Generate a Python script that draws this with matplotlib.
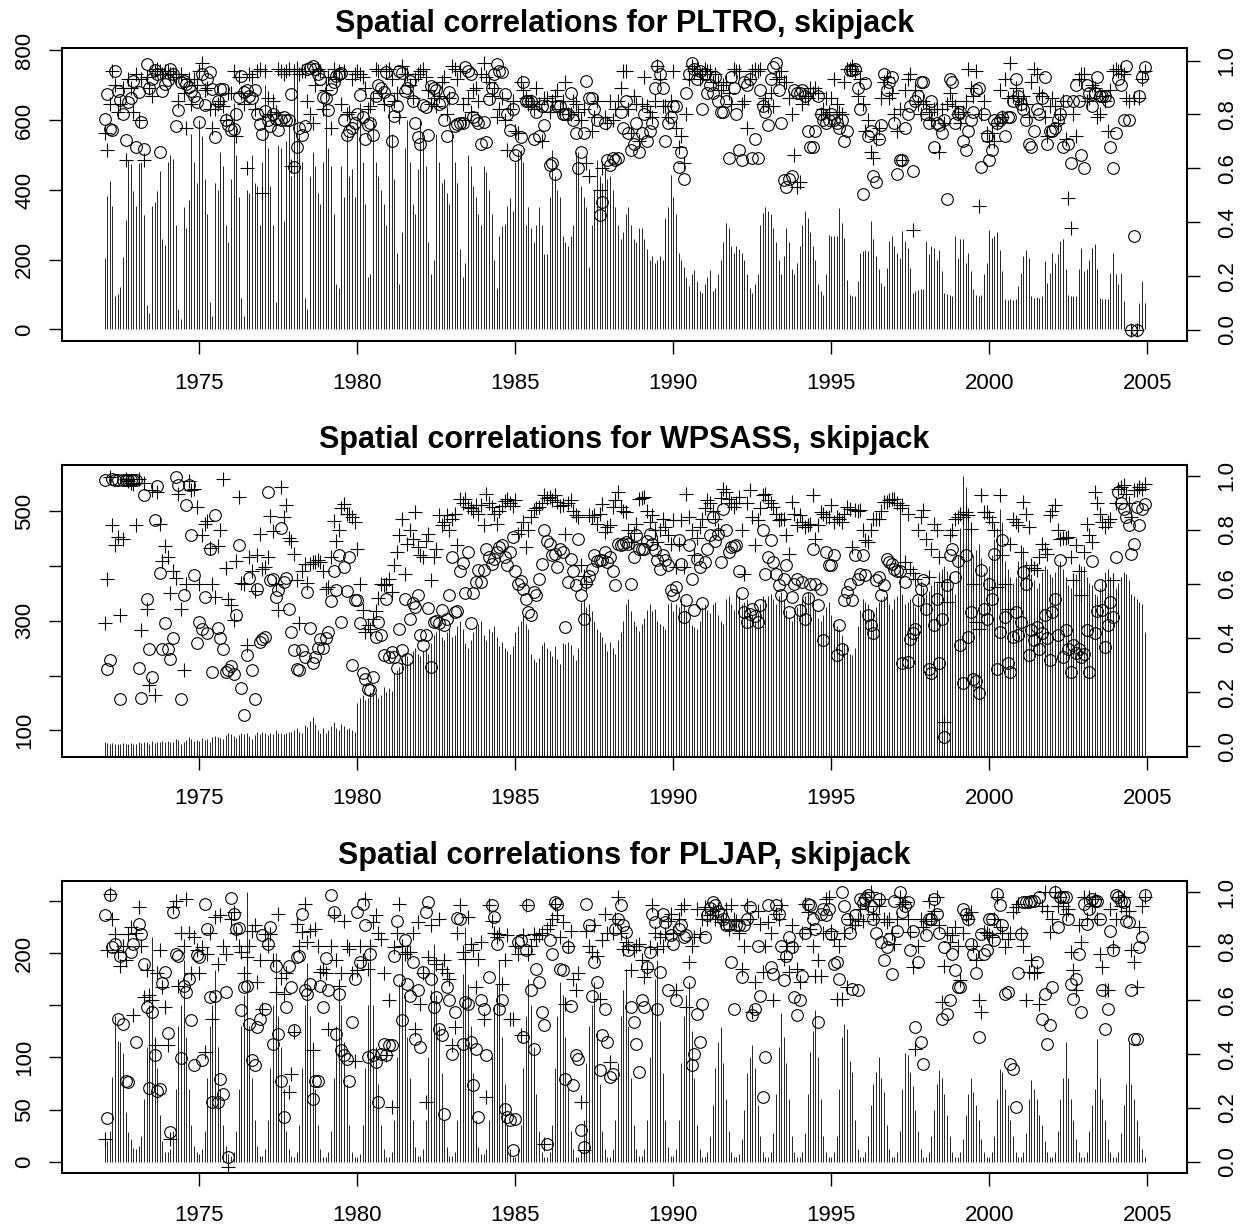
import numpy as np
import matplotlib
matplotlib.use("Agg")
import matplotlib.pyplot as plt

plt.rcParams['font.family'] = ['Liberation Sans', 'DejaVu Sans']

start_year = 1972
x_ticks = [1975, 1980, 1985, 1990, 1995, 2000, 2005]

# ---------------- PLTRO (rows = years 1972..2004, columns = months) -------------
pltro_catch = [
    [205,384,427,353,97,103,121,208,315,487,473,396],
    [353,477,480,329,70,46,353,366,396,455,258,241],
    [480,500,490,300,60,30,350,290,370,560,480,420],
    [600,555,430,330,80,40,420,400,510,470,300,250],
    [430,650,500,380,90,40,400,390,500,420,410,300],
    [480,700,520,410,300,80,530,520,310,540,590,440],
    [740,770,560,480,90,60,440,510,470,390,360,480],
    [720,520,470,330,130,120,470,380,560,440,460,380],
    [600,650,480,360,150,160,610,480,440,400,360,300],
    [640,560,430,220,130,280,520,600,480,360,330,460],
    [600,540,470,250,160,200,560,480,420,430,390,360],
    [570,480,420,230,150,190,500,470,410,380,330,300],
    [470,450,400,330,200,120,267,296,301,353,377,339],
    [480,510,515,480,300,350,290,250,300,350,300,215],
    [215,380,515,440,400,380,267,250,240,267,300,510],
    [510,410,380,350,180,300,400,487,440,420,460,430],
    [440,400,350,300,260,280,330,350,300,260,250,290],
    [290,260,230,200,210,190,200,210,200,320,350,444],
    [380,330,220,200,180,150,125,160,170,140,110,105],
    [130,150,170,110,120,160,200,250,306,290,240,220],
    [240,230,220,200,160,120,105,130,160,300,335,350],
    [340,330,290,250,200,160,210,290,250,172,160,190],
    [240,300,339,320,280,240,200,130,110,100,160,270],
    [267,267,267,349,306,263,143,100,97,95,138,220],
    [224,229,224,310,258,210,172,134,124,177,253,267],
    [239,220,205,282,253,234,177,105,110,113,115,115],
    [253,215,239,234,200,229,167,105,102,100,95,267],
    [205,258,260,191,220,167,115,100,95,100,158,191],
    [286,263,267,279,229,167,86,84,86,84,86,124],
    [162,210,229,205,95,91,94,91,95,196,134,162],
    [220,191,215,253,258,172,100,97,97,95,172,234],
    [167,172,200,234,244,172,89,88,86,88,162,220],
    [158,129,162,81,0,0,0,0,0,76,138,76],
]
pltro_circles = [
    [.785,.877,.747,.743,.963,.886,.852,.80,.704,.846,.862,.923],
    [.681,.883,.773,.673,.988,.899,.932,.965,.951,.660,.886,.914],
    [.928,.969,.951,.756,.815,.922,.926,.914,.901,.886,.87,.848],
    [.772,.951,.836,.93,.957,.895,.716,.85,.895,.893,.778,.76],
    [.741,.747,.80,.864,.944,.883,.889,.87,.862,.889,.80,.765],
    [.728,.812,.778,.759,.80,.784,.741,.780,.79,.778,.778,.877],
    [.605,.681,.75,.722,.756,.969,.972,.981,.969,.95,.932,.864],
    [.862,.815,.895,.92,.944,.95,.953,.781,.725,.74,.75,.768],
    [.80,.874,.79,.710,.762,.768,.722,.870,.911,.90,.883,.959],
    [.852,.70,.796,.833,.960,.954,.886,.90,.923,.85,.768,.716],
    [.691,.837,.827,.725,.907,.90,.889,.840,.846,.78,.719,.883],
    [.862,.756,.765,.77,.768,.975,.963,.951,.79,.78,.77,.69],
    [.772,.698,.858,.90,.95,.988,.963,.957,.877,.80,.741,.82],
    [.648,.67,.716,.92,.85,.85,.85,.71,.81,.72,.83,.76],
    [.83,.611,.62,.58,.83,.83,.80,.80,.80,.88,.78,.73],
    [.60,.66,.73,.926,.86,.86,.82,.78,.426,.475,.77,.63],
    [.611,.64,.63,.64,.81,.75,.85,.73,.67,.69,.77,.66],
    [.73,.80,.70,.74,.77,.90,.98,.95,.90,.70,.77,.79],
    [.83,.83,.605,.66,.56,.88,.95,.99,.97,.93,.96,.82],
    [.95,.88,.91,.88,.94,.85,.81,.81,.85,.64,.94,.90],
    [.80,.67,.63,.92,.91,.93,.64,.71,.64,.89,.83,.81],
    [.76,.93,.975,.99,.89,.77,.556,.53,.562,.57,.89,.88],
    [.88,.89,.87,.74,.68,.68,.74,.87,.80,.78,.77,.78],
    [.80,.78,.77,.75,.78,.70,.74,.965,.965,.97,.90,.82],
    [.506,.916,.72,.74,.57,.55,.71,.76,.95,.89,.92,.94],
    [.77,.58,.63,.63,.75,.80,.83,.59,.85,.87,.92,.92],
    [.80,.77,.85,.68,.77,.76,.73,.78,.488,.93,.92,.77],
    [.80,.81,.70,.67,.74,.78,.81,.89,.90,.605,.80,.72],
    [.632,.67,.78,.77,.78,.79,.72,.79,.79,.85,.93,.87],
    [.84,.82,.78,.69,.68,.74,.82,.80,.86,.94,.69,.74],
    [.74,.75,.78,.80,.68,.85,.69,.62,.85,.91,.85,.65],
    [.60,.91,.88,.83,.88,.94,.87,.87,.87,.85,.68,.60],
    [.73,.93,.91,.78,.98,.78,0,.35,0,.87,.94,.975],
]
pltro_plus = [
    [.73,.67,.84,.96,.91,.81,.84,.90,.63,.93,.90,.81],
    [.95,.78,.93,.63,.94,.90,.87,.96,.97,.96,.95,.96],
    [.96,.95,.95,.94,.85,.95,.88,.75,.93,.84,.93,.91],
    [.96,.99,.89,.90,.82,.75,.82,.84,.85,.83,.78,.88],
    [.88,.96,.72,.94,.88,.84,.60,.95,.94,.82,.96,.97],
    [.51,.96,.86,.80,.85,.81,.97,.96,.95,.96,.97,.61],
    [.96,.97,.95,.96,.96,.85,.80,.77,.91,.97,.96,.82],
    [.89,.94,.75,.97,.93,.96,.84,.96,.80,.81,.93,.95],
    [.96,.95,.94,.90,.82,.83,.86,.97,.96,.88,.84,.96],
    [.97,.93,.85,.88,.79,.98,.95,.95,.91,.86,.93,.95],
    [.96,.97,.94,.89,.84,.86,.83,.87,.92,.94,.80,.86],
    [.98,.97,.93,.96,.84,.78,.86,.81,.89,.90,.85,.95],
    [.99,.94,.92,.87,.90,.79,.82,.86,.78,.67,.82,.85],
    [.74,.73,.92,.89,.86,.84,.85,.82,.90,.84,.70,.86],
    [.86,.81,.85,.87,.89,.82,.85,.92,.80,.80,.85,.84],
    [.81,.78,.82,.62,.57,.74,.79,.85,.52,.60,.79,.77],
    [.85,.78,.82,.85,.90,.96,.96,.82,.73,.87,.84,.70],
    [.84,.94,.83,.81,.79,.85,.98,.93,.83,.83,.79,.85],
    [.96,.75,.68,.72,.62,.80,.93,.98,.96,.97,.93,.95],
    [.97,.96,.96,.92,.95,.92,.89,.91,.92,.88,.84,.97],
    [.96,.96,.84,.85,.75,.93,.96,.97,.96,.97,.84,.86],
    [.83,.88,.83,.93,.94,.96,.92,.92,.86,.80,.65,.53],
    [.55,.84,.87,.86,.90,.88,.90,.88,.80,.82,.86,.81],
    [.86,.93,.84,.81,.80,.92,.97,.97,.98,.96,.87,.93],
    [.84,.74,.78,.66,.64,.71,.75,.86,.92,.94,.86,.88],
    [.80,.74,.82,.63,.89,.93,.95,.37,.89,.84,.80,.85],
    [.84,.81,.78,.82,.82,.66,.82,.77,.84,.88,.85,.83],
    [.80,.77,.81,.85,.97,.90,.87,.96,.46,.80,.85,.73],
    [.70,.73,.70,.77,.89,.79,.93,.86,.99,.87,.90,.86],
    [.84,.87,.84,.79,.92,.97,.95,.88,.87,.79,.72,.83],
    [.86,.83,.77,.80,.85,.71,.49,.38,.80,.72,.93,.95],
    [.95,.85,.86,.91,.90,.79,.80,.87,.85,.74,.89,.96],
    [.97,.96,.96,.95,.86,.85,0,.86,0,.86,.93,.96],
]

# ---------------- WPSASS -------------
wpsass_catch = [
    [78,77,76,77,76,76,75,77,76,76,77,76],
    [76,78,77,79,78,76,80,77,78,79,80,78],
    [80,79,78,84,82,76,79,82,88,84,80,82],
    [80,86,82,84,78,88,90,88,86,84,92,95],
    [94,90,86,92,96,93,95,90,85,92,97,94],
    [98,95,92,96,94,100,96,95,93,96,98,97],
    [100,104,98,95,110,106,118,125,112,100,95,105],
    [96,100,108,115,104,100,112,108,102,104,100,98],
    [150,160,165,155,160,170,175,168,160,165,180,170],
    [178,172,205,210,215,230,240,235,225,245,250,240],
    [235,245,250,240,260,275,280,285,270,265,280,285],
    [270,275,290,300,285,260,250,265,280,290,295,300],
    [275,265,285,280,290,270,255,262,250,245,240,255],
    [280,290,300,310,295,285,240,230,225,232,256,262],
    [250,245,235,255,230,222,260,258,262,256,237,228],
    [250,335,340,325,330,318,300,285,280,270,260,245],
    [262,250,240,265,280,300,330,340,318,300,290,282],
    [295,305,320,330,318,322,300,295,290,285,330,335],
    [318,330,325,340,330,320,300,292,288,286,300,325],
    [330,320,315,330,335,310,300,295,340,345,330,320],
    [350,345,330,335,340,320,310,300,315,330,345,340],
    [345,350,340,330,345,352,340,320,305,300,310,325],
    [330,340,345,352,350,335,320,305,300,310,325,335],
    [310,300,290,285,274,260,256,240,237,250,290,320],
    [340,335,330,320,316,325,335,340,345,350,330,322],
    [340,345,493,350,330,335,340,330,325,345,372,360],
    [350,355,365,372,370,390,395,400,392,385,360,350],
    [420,470,565,545,505,460,420,430,440,415,390,380],
    [400,420,450,470,505,480,410,395,380,370,380,410],
    [420,435,410,400,385,375,360,370,390,400,395,385],
    [380,390,400,410,395,380,365,360,370,385,395,400],
    [400,380,370,365,350,345,360,375,390,395,380,370],
    [360,370,380,390,385,375,350,345,340,335,330,280],
]
wpsass_circles = [
    [.984,.287,.318,.988,.985,.985,.174,.985,.985,.985,.985,.985],
    [.985,.29,.177,.93,.544,.358,.256,.836,.963,.642,.361,.454],
    [.361,.324,.40,.996,.965,.173,.558,.891,.965,.783,.635,.38],
    [.46,.435,.552,.417,.731,.275,.855,.438,.40,.359,.275,.281],
    [.297,.268,.485,.746,.216,.115,.337,.623,.281,.173,.583,.386],
    [.398,.404,.941,.614,.618,.552,.577,.808,.608,.623,.509,.423],
    [.355,.287,.281,.355,.33,.571,.438,.306,.33,.364,.398,.364],
    [.40,.423,.536,.647,.577,.709,.46,.663,.573,.70,.30,.54],
    [.54,.454,.272,.25,.211,.207,.256,.404,.46,.413,.339,.546],
    [.33,.349,.33,.29,.433,.355,.544,.324,.47,.528,.515,.558],
    [.41,.376,.413,.512,.293,.46,.462,.457,.503,.45,.472,.561],
    [.70,.497,.50,.647,.679,.565,.719,.454,.565,.608,.651,.608],
    [.651,.731,.70,.676,.694,.72,.737,.743,.70,.67,.72,.774],
    [.65,.602,.61,.58,.546,.497,.485,.571,.558,.62,.676,.799],
    [.76,.75,.707,.713,.663,.729,.72,.441,.608,.694,.65,.596],
    [.768,.558,.472,.608,.63,.657,.707,.684,.69,.688,.719,.682],
    [.70,.65,.596,.75,.743,.75,.756,.75,.602,.70,.78,.731],
    [.73,.73,.76,.787,.75,.725,.69,.657,.707,.69,.67,.577],
    [.558,.589,.762,.676,.478,.54,.743,.62,.503,.694,.663,.528],
    [.682,.73,.78,.848,.758,.787,.682,.879,.80,.719,.737,.74],
    [.743,.65,.565,.497,.46,.49,.509,.48,.46,.522,.799,.639],
    [.70,.762,.682,.639,.596,.558,.62,.67,.497,.552,.60,.62],
    [.503,.608,.472,.55,.602,.731,.60,.522,.583,.392,.719,.67],
    [.67,.707,.337,.45,.361,.54,.571,.60,.54,.707,.62,.639],
    [.707,.632,.485,.447,.417,.614,.626,.558,.596,.694,.68,.676],
    [.657,.65,.649,.306,.608,.312,.398,.42,.435,.54,.58,.614],
    [.509,.287,.269,.45,.544,.306,.472,.035,.596,.707,.731,.626],
    [.684,.374,.232,.707,.404,.497,.25,.24,.195,.651,.509,.472],
    [.60,.546,.713,.287,.423,.762,.478,.306,.275,.404,.497,.41],
    [.46,.645,.602,.337,.429,.392,.441,.361,.417,.485,.40,.318],
    [.497,.546,.41,.688,.33,.429,.36,.275,.374,.345,.36,.33],
    [.34,.429,.275,.684,.417,.50,.596,.503,.367,.447,.534,.478],
    [.70,.941,.90,.879,.85,.818,.713,.75,.885,.818,.879,.898],
]
wpsass_plus = [
    [.454,.618,.996,.82,.744,.774,.487,.768,.988,.98,.975,.97],
    [.818,.99,.429,.975,.509,.226,.95,.189,.939,.824,.684,.741],
    [.70,.568,.65,.623,.932,.509,.281,.602,.98,.95,.953,.885],
    [.602,.783,.824,.832,.734,.60,.552,.741,.80,.988,.66,.544],
    [.522,.466,.684,.923,.605,.60,.374,.70,.65,.573,.707,.787],
    [.657,.663,.70,.852,.795,.60,.503,.959,.85,.894,.771,.76],
    [.712,.614,.454,.65,.676,.605,.676,.68,.682,.69,.682,.65],
    [.583,.589,.70,.832,.758,.80,.881,.898,.86,.861,.85,.831],
    [.731,.60,.503,.423,.45,.435,.47,.50,.55,.602,.598,.60],
    [.62,.571,.67,.72,.78,.842,.639,.75,.80,.768,.867,.737],
    [.707,.70,.76,.787,.614,.70,.728,.855,.818,.83,.855,.799],
    [.84,.861,.744,.916,.90,.916,.885,.88,.87,.891,.86,.891],
    [.818,.935,.90,.885,.86,.824,.87,.89,.906,.916,.90,.89],
    [.91,.787,.80,.83,.737,.80,.85,.873,.88,.885,.90,.928],
    [.92,.922,.91,.928,.904,.89,.894,.787,.90,.91,.87,.855],
    [.848,.67,.63,.602,.857,.85,.855,.824,.86,.898,.793,.81],
    [.818,.885,.91,.94,.885,.87,.867,.80,.756,.79,.824,.916],
    [.92,.922,.87,.83,.855,.80,.756,.80,.842,.811,.78,.75],
    [.836,.663,.75,.836,.663,.935,.85,.80,.706,.77,.81,.842],
    [.88,.91,.90,.87,.842,.799,.92,.953,.94,.916,.90,.885],
    [.90,.922,.80,.639,.90,.947,.85,.744,.836,.88,.928,.935],
    [.91,.90,.885,.86,.836,.84,.842,.78,.713,.904,.86,.818],
    [.855,.83,.811,.82,.824,.928,.768,.82,.867,.86,.85,.848],
    [.891,.83,.85,.84,.83,.86,.885,.879,.737,.873,.87,.873],
    [.80,.762,.756,.80,.842,.84,.842,.87,.904,.904,.91,.916],
    [.916,.90,.88,.891,.682,.861,.657,.64,.62,.80,.85,.873],
    [.768,.626,.731,.824,.80,.70,.608,.09,.534,.78,.799,.842],
    [.85,.86,.85,.867,.855,.805,.60,.46,.435,.928,.867,.867],
    [.85,.83,.799,.589,.928,.707,.60,.509,.75,.842,.83,.818],
    [.719,.904,.86,.811,.67,.66,.651,.70,.75,.73,.713,.855],
    [.87,.891,.80,.768,.77,.77,.774,.70,.614,.744,.65,.559],
    [.719,.824,.78,.756,.941,.90,.861,.83,.811,.83,.842,.614],
    [.90,.953,.96,.965,.935,.90,.848,.947,.95,.96,.953,.972],
]

# ---------------- PLJAP -------------
pljap_catch = [
    [22,20,30,81,140,116,115,104,48,29,22,13],
    [12,15,25,60,110,150,215,120,90,45,20,10],
    [10,12,30,70,130,150,193,120,70,35,15,10],
    [8,12,30,80,130,150,184,110,70,35,15,8],
    [6,10,30,70,130,160,258,130,80,40,15,6],
    [6,12,40,90,150,200,140,110,70,30,12,6],
    [5,10,35,90,150,190,140,115,70,35,12,5],
    [5,10,30,80,130,172,150,115,75,35,10,5],
    [5,8,35,90,150,199,150,110,75,35,12,5],
    [5,10,40,100,170,212,160,120,80,40,14,6],
    [6,12,40,100,165,209,160,130,85,40,14,6],
    [6,10,40,110,180,225,170,130,85,40,14,8],
    [8,12,40,100,150,170,193,120,75,35,12,5],
    [5,12,35,90,140,175,150,110,65,30,10,5],
    [5,10,35,90,140,172,160,120,70,30,12,5],
    [5,10,40,95,130,150,172,125,75,30,12,5],
    [5,12,40,95,140,165,185,130,80,35,12,6],
    [6,12,40,100,150,175,193,135,85,40,14,6],
    [6,12,40,95,140,160,172,125,80,35,12,5],
    [5,10,25,55,90,115,129,95,60,30,10,5],
    [5,8,22,50,85,100,112,90,55,25,10,5],
    [5,10,28,65,110,143,120,95,60,25,10,5],
    [5,10,28,65,105,125,145,100,60,25,10,5],
    [5,10,25,70,120,132,127,97,86,40,12,5],
    [5,10,25,55,75,86,100,80,67,35,12,5],
    [5,10,30,70,104,102,86,73,50,30,12,5],
    [5,10,25,50,75,88,80,65,45,25,10,5],
    [5,10,22,45,65,80,67,55,40,22,10,5],
    [5,10,25,60,89,86,70,55,40,25,10,5],
    [5,10,28,60,78,70,60,45,35,20,10,5],
    [5,10,30,60,80,115,80,60,40,22,10,5],
    [5,10,30,55,70,118,80,60,40,22,10,5],
    [5,10,28,55,75,115,75,60,40,25,12,5],
]
pljap_circles = [
    [.914,.163,.99,.796,.809,.531,.765,.512,.302,.296,.78,.809],
    [.444,.883,.846,.735,.574,.274,.556,.398,.265,.272,.664,.706],
    [.479,.111,.928,.772,.765,.385,.654,.63,.679,.525,.36,.768],
    [.759,.377,.957,.862,.611,.222,.617,.222,.309,.253,.63,.019],
    [.978,.92,.862,.867,.565,.648,.654,.512,.377,.358,.50,.531],
    [.84,.568,.809,.87,.438,.728,.475,.302,.167,.574,.728,.648],
    [.488,.759,.765,.92,.636,.623,.66,.235,.302,.299,.654,.574],
    [.756,.636,.988,.926,.475,.623,.414,.395,.383,.299,.519,.677],
    [.926,.741,.957,.877,.389,.772,.395,.37,.222,.401,.438,.395],
    [.432,.432,.765,.895,.673,.525,.821,.66,.617,.741,.457,.636],
    [.426,.704,.926,.963,.679,.574,.611,.494,.472,.179,.648,.599],
    [.401,.556,.904,.901,.438,.593,.586,.444,.285,.42,.167,.60],
    [.568,.395,.685,.951,.907,.809,.568,.599,.198,.167,.154,.043],
    [.16,.815,.821,.463,.784,.951,.636,.42,.716,.667,.556,.506],
    [.068,.821,.772,.963,.957,.716,.71,.309,.796,.58,.284,.395],
    [.383,.117,.056,.957,.877,.617,.741,.667,.34,.469,.568,.444],
    [.315,.327,.864,.90,.951,.88,.852,.784,.574,.519,.438,.333],
    [.60,.574,.722,.778,.92,.889,.568,.704,.92,.889,.636,.84],
    [.809,.599,.864,.877,.833,.84,.667,.358,.401,.549,.444,.586],
    [.833,.914,.94,.963,.951,.932,.92,.90,.877,.877,.741,.568],
    [.877,.877,.685,.877,.90,.944,.543,.568,.802,.617,.241,.389],
    [.951,.722,.698,.951,.92,.80,.673,.765,.833,.796,.611,.543],
    [.60,.691,.85,.957,.951,.90,.864,.519,.92,.938,.914,.938],
    [.846,.735,.741,.679,1.0,.95,.90,.85,.642,.914,.636,.975],
    [.96,.975,.988,.95,.90,.85,.975,.815,.747,.796,.827,.698],
    [.969,.858,1.0,.926,.95,.963,.784,.858,.50,.741,.444,.364],
    [.84,.90,.901,.975,.92,.85,.531,.796,.549,.60,.772,.71],
    [.648,.648,.938,.92,.901,.809,.772,.70,.463,.846,.772,.784],
    [.90,.901,.821,.994,.951,.88,.623,.63,.364,.346,.204,.70],
    [.846,.963,.963,.963,.969,.969,.741,.981,.531,.623,.438,.506],
    [.648,1.0,.87,.981,.981,.981,.901,.66,.605,.679,.772,.556],
    [.957,.883,.938,.975,.969,.969,.901,.636,.494,.568,.858,.784],
    [.988,.981,.969,.963,.895,.889,.636,.457,.457,.796,.833,.988],
]
pljap_plus = [
    [.086,.784,.994,.90,.846,.778,.728,.80,.75,.846,.87,.543],
    [.85,.944,.80,.611,.71,.62,.60,.432,.70,.784,.65,.574],
    [.432,.086,.944,.969,.654,.85,.80,.975,.85,.70,.833,.784],
    [.70,.796,.407,.772,.85,.531,.907,.735,.914,.80,.772,-.019],
    [.90,.926,.85,.80,.778,.70,.759,.80,.858,.877,.667,.75],
    [.568,.846,.80,.846,.75,.63,.92,.681,.623,.70,.259,.327],
    [.481,.883,.80,.852,.957,.815,.858,.414,.864,.80,.704,.716],
    [.70,.494,.80,.914,.75,.654,.70,.895,.80,.79,.70,.373],
    [.71,.80,.75,.975,.716,.80,.889,.914,.85,.827,.70,.395],
    [.60,.204,.796,.85,.957,.80,.772,.78,.778,.85,.494,.889],
    [.586,.70,.222,.759,.877,.75,.735,.901,.716,.75,.70,.679],
    [.432,.50,.85,.951,.778,.753,.907,.809,.784,.648,.753,.815],
    [.531,.241,.951,.895,.85,.833,.846,.66,.75,.84,.531,.531],
    [.80,.772,.469,.84,.951,.772,.80,.846,.827,.84,.85,.068],
    [.864,.877,.90,.957,.914,.833,.889,.586,.80,.858,.679,.636],
    [.70,.222,.043,.858,.80,.778,.877,.765,.605,.821,.92,.85],
    [.37,.85,.901,.981,.85,.79,.815,.80,.71,.784,.80,.809],
    [.75,.685,.716,.796,.951,.85,.79,.833,.80,.846,.895,.92],
    [.85,.636,.90,.938,.951,.574,.741,.80,.833,.938,.846,.90],
    [.944,.90,.914,.932,.90,.938,.889,.90,.938,.864,.951,.90],
    [.895,.85,.716,.80,.951,.90,.556,.667,.932,.883,.704,.80],
    [.889,.85,.599,.92,.90,.951,.753,.80,.704,.877,.80,.716],
    [.667,.85,.957,.926,.864,.80,.691,.75,.691,.85,.975,.981],
    [.858,.827,.605,.80,.605,.85,.648,.90,.88,.877,.90,.938],
    [.895,.981,.95,1.0,.92,.901,.95,.975,.90,.889,.901,.85],
    [.809,.90,.981,.957,.963,.90,.852,.722,.42,.80,.901,.87],
    [.895,.969,.90,.93,.981,.877,.593,.728,.85,.815,.84,.87],
    [.80,.673,.85,.914,.90,.926,.80,.747,.60,.556,.852,.85],
    [.84,.833,.90,.981,.87,.85,.796,.827,.85,.926,.944,.957],
    [.85,.80,.599,.704,.75,.70,.704,.586,.95,1.0,.932,.852],
    [.90,1.0,.95,.981,.95,.92,.938,.778,.71,.636,.877,.815],
    [.981,.90,.981,.95,.975,.90,.772,.722,.636,.636,.938,.796],
    [.90,.981,.95,.981,.932,.932,.784,.741,.648,.87,.95,.981],
]

titles = ["Spatial correlations for PLTRO, skipjack",
          "Spatial correlations for WPSASS, skipjack",
          "Spatial correlations for PLJAP, skipjack"]

left_ticks = [[0, 200, 400, 600, 800],
              [100, 200, 300, 400, 500],
              [0, 50, 100, 150, 200, 250]]
left_ticklabels = [["0", "200", "400", "600", "800"],
                   ["100", "", "300", "", "500"],
                   ["0", "50", "100", "", "200", ""]]
right_ticks = [0.0, 0.2, 0.4, 0.6, 0.8, 1.0]


def flat(rows):
    a = np.array(rows, dtype=float)
    assert a.shape == (33, 12), a.shape
    return a.ravel()


t = start_year + np.arange(33 * 12) / 12.0

W, H = 1247, 1227
fig = plt.figure(figsize=(W / 100, H / 100), dpi=100)

# frame pixel boxes (top, bottom) and axis limits
frames = [(48.3, 341.0), (464.6, 756.8), (880.5, 1173.0)]
left_lims = [(-33, 806), (51.8, 585.4), (-10.5, 269.3)]
right_lims = [(-0.0407, 1.0456), (-0.0396, 1.0422), (-0.0407, 1.0433)]
FL, FR = 61.7, 1186.7

panels = [(pltro_catch, pltro_circles, pltro_plus),
          (wpsass_catch, wpsass_circles, wpsass_plus),
          (pljap_catch, pljap_circles, pljap_plus)]

lw_frame = 1.45
tick_len = 9.6
fs_tick = 16
for k, (catch, circ, plus) in enumerate(panels):
    top, bot = frames[k]
    ax = fig.add_axes([FL / W, 1 - bot / H, (FR - FL) / W, (bot - top) / H])
    ax.vlines(t, 0, flat(catch), colors='black', linewidth=0.6)
    ax.set_xlim(1970.645, 2006.25)
    ax.set_ylim(*left_lims[k])
    ax.set_xticks(x_ticks)
    ax.set_xticklabels([str(v) for v in x_ticks])
    ax.set_yticks(left_ticks[k])
    ax.set_yticklabels(left_ticklabels[k])
    for s in ax.spines.values():
        s.set_linewidth(lw_frame)
    ax.tick_params(axis='both', direction='out', length=tick_len, width=1.0,
                   labelsize=fs_tick, colors='black')
    ax.tick_params(axis='x', pad=13.2)
    ax.tick_params(axis='y', pad=9.6)
    for lab in ax.get_yticklabels():
        lab.set_rotation(90)
        lab.set_va('center')

    ax2 = ax.twinx()
    ax2.plot(t, flat(circ), linestyle='none', marker='o', markersize=8.4,
             markerfacecolor='none', markeredgecolor='black', markeredgewidth=0.8)
    ax2.plot(t, flat(plus), linestyle='none', marker='+', markersize=10.5,
             markeredgecolor='black', markeredgewidth=0.8)
    ax2.set_ylim(*right_lims[k])
    ax2.set_yticks(right_ticks)
    ax2.set_yticklabels([f"{v:.1f}" for v in right_ticks])
    for s in ax2.spines.values():
        s.set_linewidth(lw_frame)
    ax2.tick_params(axis='y', direction='out', length=tick_len, width=1.0,
                    labelsize=fs_tick, pad=12.0, colors='black')
    for lab in ax2.get_yticklabels():
        lab.set_rotation(90)
        lab.set_va('center')

    ax.text(0.5, 1 + 16.7 / (bot - top), titles[k], transform=ax.transAxes,
            ha='center', va='baseline', fontsize=22, fontweight='bold')

fig.savefig("out.png", dpi=100)
